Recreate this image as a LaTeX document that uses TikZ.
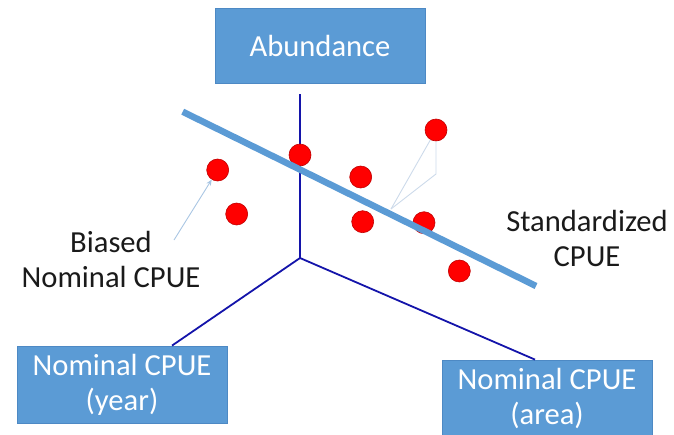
\documentclass[tikz,border=0pt]{standalone}
\usepackage{fontspec}
\setmainfont{Carlito}
\usetikzlibrary{arrows.meta,calc}
\definecolor{ink}{HTML}{1A1A1A}
\definecolor{boxblue}{HTML}{5B9BD5}
\definecolor{boxedge}{HTML}{4D89C4}
\definecolor{axisblue}{HTML}{1414AA}
\definecolor{dotred}{HTML}{FF0000}
\definecolor{dotedge}{HTML}{C00000}
\definecolor{pale}{HTML}{CCDAEA}
\definecolor{palearr}{HTML}{A9C6E3}

\begin{document}
\begin{tikzpicture}[x=1pt, y=-1pt,
      box/.style={draw=boxedge, line width=0.8pt, fill=boxblue, minimum width=210pt, minimum height=77pt, inner sep=0pt, align=center, font=\fontsize{30.6}{35}\selectfont, text=white},
      lbl/.style={inner sep=0pt, align=center, font=\fontsize{30.6}{35}\selectfont, text=ink},
      dot/.style={circle, draw=dotedge, line width=0.6pt, fill=dotred, minimum size=22pt, inner sep=0pt},
      axis/.style={draw=axisblue, line width=1.8pt},
      fitline/.style={draw=boxblue, line width=6.5pt},
      callout/.style={draw=pale, line width=0.9pt},
      arr/.style={-{Stealth[length=6pt, width=5pt, fill=boxblue]}, draw=palearr, line width=0.9pt}]
    \useasboundingbox (0,0) rectangle (674,434);
    \clip (0,0) rectangle (674,434);
    % boxes
    \node[box, minimum height=75pt] (abund) at (320,45.5) {Abundance};
    \node[box] (year) at (122,384.5) {Nominal CPUE\\(year)};
    \node[box] (area) at (547,398.5) {Nominal CPUE\\(area)};
    % axes
    \coordinate (o) at (300,258);
    \coordinate (top) at (300,94);
    \draw[axis] (top) -- (o);
    \draw[axis] (o) -- ($(year.north)+(50,0)$);
    \draw[axis] (o) -- ($(area.north)+(-12,0)$);
    % observations
    \node[dot] (d1) at (217.7,170) {};
    \node[dot] (d2) at (236.7,214) {};
    \node[dot] (d3) at (300,155) {};
    \node[dot] (d4) at (360.7,177) {};
    \node[dot] (d5) at (362.7,221.7) {};
    \node[dot] (d6) at (424,222.7) {};
    \node[dot] (d7) at (436,130) {};
    \node[dot] (d8) at (459.3,271) {};
    % standardized line
    \coordinate (s1) at (182.7,111.7);
    \coordinate (s2) at (536,286);
    \draw[fitline] (s1) -- (s2);
    % callout and pointer
    \coordinate (tip) at (391,209);
    \coordinate (knee) at (436,174);
    \draw[callout] (d7) -- (tip);
    \draw[callout] (d7.south) -- (knee) -- (tip);
    \coordinate (astart) at (174,240);
    \draw[arr] (astart) -- (d1);
    % labels
    \node[lbl] (biased) at (111,259.5) {Biased\\Nominal CPUE};
    \node[lbl] (std) at (587,238.7) {Standardized\\CPUE};
  \end{tikzpicture}
\end{document}
